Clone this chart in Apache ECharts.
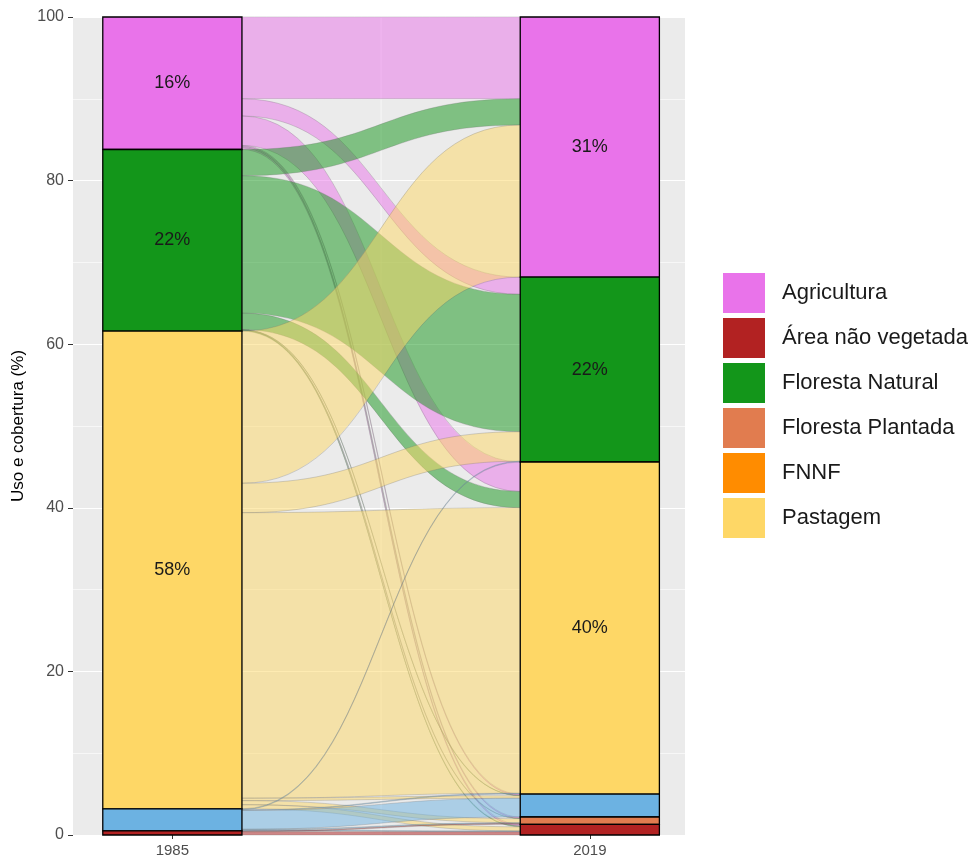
<!DOCTYPE html>
<html><head><meta charset="utf-8">
<script src="https://cdn.jsdelivr.net/npm/echarts@6/dist/echarts.min.js"></script>
<style>html,body{margin:0;padding:0;background:#fff}#c{width:978px;height:859px}</style>
</head><body><div id="c"></div>
<script>
// ---- data ----
const years = ['1985', '2019'];
// stacking order, top to bottom
const classes = ['Agricultura', 'Floresta Natural', 'Pastagem', 'Água', 'Floresta Plantada', 'FNNF', 'Área não vegetada'];
const classColors = ['#E973EA', '#13961A', '#FED766', '#6CB2E2', '#E17C4F', '#FF8C00', '#B22222'];
const legendClasses = ['Agricultura', 'Área não vegetada', 'Floresta Natural', 'Floresta Plantada', 'FNNF', 'Pastagem'];
// flows (%) from each 1985 class to each 2019 class (same order as `classes`)
const fromAgricultura     = [10.0, 2.1, 3.6, 0.15, 0.15, 0, 0.2];
const fromFlorestaNatural = [3.2, 16.8, 2.0, 0.05, 0.05, 0, 0.1];
const fromPastagem        = [18.6, 3.6, 34.9, 0.3, 0.5, 0, 0.5];
const fromAgua            = [0, 0.1, 0.1, 2.3, 0.1, 0, 0.1];
const fromFlorestaPlantada= [0, 0, 0, 0, 0, 0, 0];
const fromFNNF            = [0, 0, 0, 0, 0, 0, 0];
const fromAreaNaoVegetada = [0, 0, 0, 0, 0.1, 0, 0.4];
const yTicks = [0, 20, 40, 60, 80, 100];
const xBreaks = [1, 2];
const xMinorBreaks = [1.5];

// ---- derived ----
const flows = [fromAgricultura, fromFlorestaNatural, fromPastagem, fromAgua, fromFlorestaPlantada, fromFNNF, fromAreaNaoVegetada];
const n = classes.length;
const tot0 = flows.map(r => r.reduce((a, b) => a + b, 0));
const tot1 = classes.map((_, j) => flows.reduce((a, r) => a + r[j], 0));
const total = tot0.reduce((a, b) => a + b, 0);
const top0 = [], top1 = [];
let acc0 = total, acc1 = total;
for (let i = 0; i < n; i++) { top0.push(acc0); acc0 -= tot0[i]; top1.push(acc1); acc1 -= tot1[i]; }

const flowData = [];
const used1 = new Array(n).fill(0);
for (let i = 0; i < n; i++) {
  let used0 = 0;
  for (let j = 0; j < n; j++) {
    const v = flows[i][j];
    if (v > 0) {
      const y0t = top0[i] - used0, y1t = top1[j] - used1[j];
      flowData.push([i, j, y0t, y0t - v, y1t, y1t - v]);
    }
    used0 += v; used1[j] += v;
  }
}
const strataData = [];
for (let i = 0; i < n; i++) {
  if (tot0[i] > 0) strataData.push([0, i, top0[i], top0[i] - tot0[i]]);
  if (tot1[i] > 0) strataData.push([1, i, top1[i], top1[i] - tot1[i]]);
}
const half = 1 / 6;

function hexA(hex, a) {
  const r = parseInt(hex.slice(1, 3), 16), g = parseInt(hex.slice(3, 5), 16), b = parseInt(hex.slice(5, 7), 16);
  return `rgba(${r},${g},${b},${a})`;
}

const FONT = 'Liberation Sans, Arial, sans-serif';
const chart = echarts.init(document.getElementById('c'));
const series = [
  {
    type: 'custom', name: 'grid-x', silent: true, z: 1,
    data: xBreaks.map(v => [v, 1]).concat(xMinorBreaks.map(v => [v, 0])),
    renderItem(params, api) {
      const a = api.coord([api.value(0), 0]), b = api.coord([api.value(0), 100]);
      return { type: 'line', shape: { x1: a[0], y1: a[1], x2: b[0], y2: b[1] },
        style: { stroke: '#fff', lineWidth: api.value(1) ? 1.2 : 0.6 } };
    }
  },
  {
    type: 'custom', name: 'flows', silent: true, z: 2,
    data: flowData,
    renderItem(params, api) {
      const i = api.value(0);
      const xa = 1 + half, xb = 2 - half, xm = 1.5;
      const p0t = api.coord([xa, api.value(2)]), p0b = api.coord([xa, api.value(3)]);
      const p1t = api.coord([xb, api.value(4)]), p1b = api.coord([xb, api.value(5)]);
      const mx = api.coord([xm, 0])[0];
      const d = `M${p0t[0]},${p0t[1]} C${mx},${p0t[1]} ${mx},${p1t[1]} ${p1t[0]},${p1t[1]} ` +
        `L${p1b[0]},${p1b[1]} C${mx},${p1b[1]} ${mx},${p0b[1]} ${p0b[0]},${p0b[1]} Z`;
      return { type: 'path', shape: { pathData: d },
        style: { fill: hexA(classColors[i], 0.5), stroke: 'rgba(110,110,110,0.45)', lineWidth: 0.6 } };
    }
  },
  {
    type: 'custom', name: 'strata', silent: true, z: 3,
    data: strataData,
    renderItem(params, api) {
      const ax = api.value(0) + 1, ci = api.value(1), t = api.value(2), b = api.value(3);
      const p1 = api.coord([ax - half, t]), p2 = api.coord([ax + half, b]);
      const children = [{ type: 'rect', shape: { x: p1[0], y: p1[1], width: p2[0] - p1[0], height: p2[1] - p1[1] },
        style: { fill: classColors[ci], stroke: '#000', lineWidth: 1.3 } }];
      const pct = t - b;
      if (pct >= 10) {
        const c = api.coord([ax, (t + b) / 2]);
        children.push({ type: 'text', x: c[0], y: c[1],
          style: { text: Math.floor(pct) + '%', fill: '#1A1A1A', font: `18px ${FONT}`, align: 'center', verticalAlign: 'middle' } });
      }
      return { type: 'group', children };
    }
  }
].concat(legendClasses.map(name => ({
  type: 'scatter', name, data: [], itemStyle: { color: classColors[classes.indexOf(name)], opacity: 1 }
})));

chart.setOption({
  animation: false,
  textStyle: { fontFamily: FONT },
  grid: { left: 73, right: 293, top: 17, bottom: 24, show: true, backgroundColor: '#EBEBEB', borderWidth: 0,
    outerBoundsMode: 'none', containLabel: false },
  xAxis: {
    type: 'value', min: 0.762, max: 2.228,
    axisLine: { show: false },
    splitLine: { show: false },
    axisTick: { show: true, customValues: xBreaks, length: 4, lineStyle: { color: '#333', width: 1 } },
    axisLabel: { show: true, customValues: xBreaks, formatter: v => years[Math.round(v) - 1] || '',
      color: '#4D4D4D', fontSize: 15, margin: 8, fontFamily: FONT }
  },
  yAxis: {
    type: 'value', min: 0, max: 100, interval: 20,
    name: 'Uso e cobertura (%)', nameLocation: 'middle', nameGap: 45,
    nameTextStyle: { fontSize: 17, color: '#000', fontFamily: FONT },
    axisLine: { show: false },
    axisTick: { show: true, length: 5, lineStyle: { color: '#333', width: 1 } },
    axisLabel: { color: '#4D4D4D', fontSize: 16, margin: 9, fontFamily: FONT, formatter: v => yTicks.includes(v) ? String(v) : '' },
    splitLine: { show: true, lineStyle: { color: '#fff', width: 1.2 } },
    minorTick: { show: false, splitNumber: 2 },
    minorSplitLine: { show: true, lineStyle: { color: '#fff', width: 0.6 } }
  },
  legend: {
    orient: 'vertical', left: 723, top: 273, padding: 0, itemWidth: 42, itemHeight: 40, itemGap: 5,
    icon: 'rect', data: legendClasses, selectedMode: false,
    itemStyle: { opacity: 1 },
    textStyle: { fontSize: 22, color: '#1A1A1A', fontFamily: FONT, padding: [0, 0, 0, 12] }
  },
  series
});
</script></body></html>
